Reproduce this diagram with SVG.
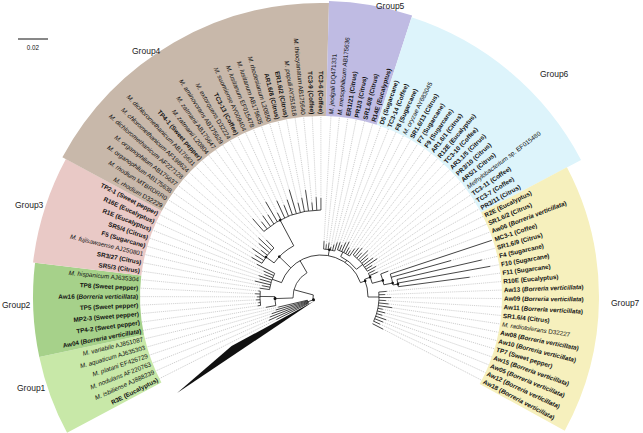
<svg xmlns="http://www.w3.org/2000/svg" width="643" height="433" viewBox="0 0 643 433">
<style>
.b{fill:none;stroke:#1a1a1a;stroke-width:0.75}
.d{stroke:#a8a8a8;stroke-width:0.5;stroke-dasharray:1.2 0.9}
.dot{fill:#111}
.lab{font-family:"Liberation Sans",Arial,sans-serif;font-size:6.3px;fill:#111}
.iso{font-weight:bold}
.sp{font-style:italic}
.grp{font-family:"Liberation Sans",Arial,sans-serif;font-size:8.5px;fill:#222}
.band{fill:none}
</style>
<rect width="643" height="433" fill="#fff"/>
<g id="bands" transform="translate(321,297)">
<circle class="band" r="234.5" stroke-width="107" stroke="#c8e8a8" pathLength="360" stroke-dasharray="16.15 360" transform="rotate(151.85)"/>
<circle class="band" r="234.5" stroke-width="107" stroke="#a6d18a" pathLength="360" stroke-dasharray="18.85 360" transform="rotate(168)"/>
<circle class="band" r="235.5" stroke-width="109" stroke="#e9c9c6" pathLength="360" stroke-dasharray="21.55 360" transform="rotate(186.85)"/>
<circle class="band" r="237.5" stroke-width="113" stroke="#c8b8aa" pathLength="360" stroke-dasharray="63.15 360" transform="rotate(208.4)"/>
<circle class="band" r="238.5" stroke-width="115" stroke="#bfbbe3" pathLength="360" stroke-dasharray="16.39 360" transform="rotate(271.55)"/>
<circle class="band" r="237.5" stroke-width="113" stroke="#ddf4fb" pathLength="360" stroke-dasharray="44.26 360" transform="rotate(287.94)"/>
<circle class="band" r="229.5" stroke-width="97" stroke="#f6f0bd" pathLength="360" stroke-dasharray="56.55 360" transform="rotate(332.2)"/>
</g>
<g id="group-labels">
<text class="grp" x="17" y="391">Group1</text>
<text class="grp" x="2" y="308">Group2</text>
<text class="grp" x="15" y="208">Group3</text>
<text class="grp" x="132" y="54">Group4</text>
<text class="grp" x="376" y="9">Group5</text>
<text class="grp" x="540" y="77">Group6</text>
<text class="grp" x="611" y="306">Group7</text>
</g>
<g id="scale">
<line x1="18" y1="39" x2="48" y2="39" stroke="#111" stroke-width="1"/>
<text class="lab" x="33" y="50" text-anchor="middle">0.02</text>
</g>
<g id="connectors" transform="translate(321,297)">
<polygon points="-6.9,4.1 -89.4,49.1 -143.9,96" fill="#111"/>
<circle class="b" r="8" pathLength="360" stroke-dasharray="46 360" transform="rotate(149)"/>
<line class="b" x1="8" x2="14" transform="rotate(160)"/>
<circle class="b" r="14" pathLength="360" stroke-dasharray="13.46 360" transform="rotate(153.2)"/>
<line class="b" x1="8" x2="28" transform="rotate(195)"/>
<circle class="b" r="28" pathLength="360" stroke-dasharray="62 360" transform="rotate(178)"/>
<line class="b" x1="28" x2="46" transform="rotate(178)"/>
<circle class="b" r="46" pathLength="360" stroke-dasharray="11.15 360" transform="rotate(169.35)"/>
<line class="b" x1="46" x2="61" transform="rotate(180.5)"/>
<circle class="b" r="61" pathLength="360" stroke-dasharray="13.46 360" transform="rotate(172.04)"/>
<line class="b" x1="28" x2="42" transform="rotate(240)"/>
<circle class="b" r="42" pathLength="360" stroke-dasharray="140 360" transform="rotate(200)"/>
<line class="b" x1="42" x2="52" transform="rotate(200)"/>
<circle class="b" r="52" pathLength="360" stroke-dasharray="18.84 360" transform="rotate(188.2)"/>
<line class="b" x1="42" x2="58" transform="rotate(224)"/>
<circle class="b" r="58" pathLength="360" stroke-dasharray="26 360" transform="rotate(216)"/>
<line class="b" x1="58" x2="68" transform="rotate(216)"/>
<circle class="b" r="68" pathLength="360" stroke-dasharray="16.42 360" transform="rotate(209.75)"/>
<line class="b" x1="58" x2="87" transform="rotate(242)"/>
<circle class="b" r="87" pathLength="360" stroke-dasharray="41.05 360" transform="rotate(228.91)"/>
<line class="b" x1="42" x2="48" transform="rotate(280)"/>
<circle class="b" r="48" pathLength="360" stroke-dasharray="13.46 360" transform="rotate(273.15)"/>
<line class="b" x1="42" x2="45" transform="rotate(305)"/>
<circle class="b" r="45" pathLength="360" stroke-dasharray="26 360" transform="rotate(296)"/>
<line class="b" x1="45" x2="50" transform="rotate(296)"/>
<circle class="b" r="50" pathLength="360" stroke-dasharray="15.62 360" transform="rotate(289.26)"/>
<line class="b" x1="45" x2="53" transform="rotate(322)"/>
<circle class="b" r="53" pathLength="360" stroke-dasharray="23.43 360" transform="rotate(307.48)"/>
<line class="b" x1="42" x2="47" transform="rotate(340)"/>
<circle class="b" r="47" pathLength="360" stroke-dasharray="22 360" transform="rotate(338)"/>
<line class="b" x1="47" x2="53" transform="rotate(338)"/>
<circle class="b" r="53" pathLength="360" stroke-dasharray="11.44 360" transform="rotate(333.56)"/>
<line class="b" x1="53" x2="64" transform="rotate(345)"/>
<circle class="b" r="64" pathLength="360" stroke-dasharray="10.05 360" transform="rotate(338.95)"/>
<line class="b" x1="64" x2="73" transform="rotate(349)"/>
<circle class="b" r="73" pathLength="360" stroke-dasharray="8.86 360" transform="rotate(341.64)"/>
<line class="b" x1="73" x2="78" transform="rotate(350.5)"/>
<circle class="b" r="78" pathLength="360" stroke-dasharray="5.39 360" transform="rotate(347.02)"/>
<line class="b" x1="47" x2="58" transform="rotate(360)"/>
<circle class="b" r="58" pathLength="360" stroke-dasharray="29.9 360" transform="rotate(355.1)"/>
<g class="dot">
<circle r="1.5" cx="8" transform="rotate(160)"/>
<circle r="1.5" cx="46" transform="rotate(178)"/>
<circle r="1.3" cx="58" transform="rotate(224)"/>
<circle r="1.3" cx="68" transform="rotate(216)"/>
<circle r="1.3" cx="87" transform="rotate(242)"/>
<circle r="1.3" cx="48" transform="rotate(280)"/>
<circle r="1.3" cx="47" transform="rotate(340)"/>
<circle r="1.3" cx="53" transform="rotate(338)"/>
<circle r="1.3" cx="64" transform="rotate(345)"/>
<circle r="1.3" cx="73" transform="rotate(349)"/>
<circle r="1.3" cx="78" transform="rotate(350.5)"/>
</g>
<g transform="rotate(153.20)"><line class="b" x1="14" x2="50"/><line class="d" x1="50" x2="181"/></g>
<g transform="rotate(155.89)"><line class="b" x1="14" x2="57"/><line class="d" x1="57" x2="181"/></g>
<g transform="rotate(158.58)"><line class="b" x1="14" x2="55"/><line class="d" x1="55" x2="181"/></g>
<g transform="rotate(161.28)"><line class="b" x1="14" x2="52"/><line class="d" x1="52" x2="181"/></g>
<g transform="rotate(163.97)"><line class="b" x1="14" x2="47"/><line class="d" x1="47" x2="181"/></g>
<g transform="rotate(166.66)"><line class="b" x1="14" x2="44"/><line class="d" x1="44" x2="181"/></g>
<g transform="rotate(169.35)"><line class="b" x1="46" x2="56"/><line class="d" x1="56" x2="181"/></g>
<g transform="rotate(172.04)"><line class="b" x1="61" x2="64"/><line class="d" x1="64" x2="181"/></g>
<g transform="rotate(174.74)"><line class="b" x1="61" x2="63"/><line class="d" x1="63" x2="181"/></g>
<g transform="rotate(177.43)"><line class="b" x1="61" x2="65"/><line class="d" x1="65" x2="181"/></g>
<g transform="rotate(180.12)"><line class="b" x1="61" x2="64"/><line class="d" x1="64" x2="181"/></g>
<g transform="rotate(182.81)"><line class="b" x1="61" x2="66"/><line class="d" x1="66" x2="181"/></g>
<g transform="rotate(185.50)"><line class="b" x1="61" x2="63"/><line class="d" x1="63" x2="181"/></g>
<g transform="rotate(188.20)"><line class="b" x1="52" x2="62"/><line class="d" x1="62" x2="181"/></g>
<g transform="rotate(190.89)"><line class="b" x1="52" x2="60"/><line class="d" x1="60" x2="181"/></g>
<g transform="rotate(193.58)"><line class="b" x1="52" x2="68"/><line class="d" x1="68" x2="181"/></g>
<g transform="rotate(196.27)"><line class="b" x1="52" x2="64"/><line class="d" x1="64" x2="181"/></g>
<g transform="rotate(198.96)"><line class="b" x1="52" x2="66"/><line class="d" x1="66" x2="181"/></g>
<g transform="rotate(201.66)"><line class="b" x1="52" x2="61"/><line class="d" x1="61" x2="181"/></g>
<g transform="rotate(204.35)"><line class="b" x1="52" x2="63"/><line class="d" x1="63" x2="181"/></g>
<g transform="rotate(207.04)"><line class="b" x1="52" x2="72"/><line class="d" x1="72" x2="181"/></g>
<g transform="rotate(209.75)"><line class="b" x1="68" x2="80"/><line class="d" x1="80" x2="181"/></g>
<g transform="rotate(212.49)"><line class="b" x1="68" x2="78"/><line class="d" x1="78" x2="181"/></g>
<g transform="rotate(215.23)"><line class="b" x1="68" x2="84"/><line class="d" x1="84" x2="181"/></g>
<g transform="rotate(217.97)"><line class="b" x1="68" x2="76"/><line class="d" x1="76" x2="181"/></g>
<g transform="rotate(220.70)"><line class="b" x1="68" x2="82"/><line class="d" x1="82" x2="181"/></g>
<g transform="rotate(223.43)"><line class="b" x1="68" x2="86"/><line class="d" x1="86" x2="181"/></g>
<g transform="rotate(226.17)"><line class="b" x1="68" x2="79"/><line class="d" x1="79" x2="181"/></g>
<g transform="rotate(228.91)"><line class="b" x1="87" x2="104"/><line class="d" x1="104" x2="181"/></g>
<g transform="rotate(231.65)"><line class="b" x1="87" x2="96"/><line class="d" x1="96" x2="181"/></g>
<g transform="rotate(234.38)"><line class="b" x1="87" x2="100"/><line class="d" x1="100" x2="181"/></g>
<g transform="rotate(237.12)"><line class="b" x1="87" x2="98"/><line class="d" x1="98" x2="181"/></g>
<g transform="rotate(239.85)"><line class="b" x1="87" x2="110"/><line class="d" x1="110" x2="181"/></g>
<g transform="rotate(242.60)"><line class="b" x1="87" x2="95"/><line class="d" x1="95" x2="181"/></g>
<g transform="rotate(245.33)"><line class="b" x1="87" x2="106"/><line class="d" x1="106" x2="181"/></g>
<g transform="rotate(248.06)"><line class="b" x1="87" x2="99"/><line class="d" x1="99" x2="181"/></g>
<g transform="rotate(250.80)"><line class="b" x1="87" x2="103"/><line class="d" x1="103" x2="181"/></g>
<g transform="rotate(253.53)"><line class="b" x1="87" x2="112"/><line class="d" x1="112" x2="181"/></g>
<g transform="rotate(256.28)"><line class="b" x1="87" x2="97"/><line class="d" x1="97" x2="181"/></g>
<g transform="rotate(259.01)"><line class="b" x1="87" x2="101"/><line class="d" x1="101" x2="181"/></g>
<g transform="rotate(261.75)"><line class="b" x1="87" x2="108"/><line class="d" x1="108" x2="181"/></g>
<g transform="rotate(264.48)"><line class="b" x1="87" x2="95"/><line class="d" x1="95" x2="181"/></g>
<g transform="rotate(267.22)"><line class="b" x1="87" x2="100"/><line class="d" x1="100" x2="181"/></g>
<g transform="rotate(269.96)"><line class="b" x1="87" x2="99"/><line class="d" x1="99" x2="181"/></g>
<g transform="rotate(273.15)"><line class="b" x1="48" x2="56"/><line class="d" x1="56" x2="181"/></g>
<g transform="rotate(275.84)"><line class="b" x1="48" x2="53"/><line class="d" x1="53" x2="181"/></g>
<g transform="rotate(278.53)"><line class="b" x1="48" x2="55"/><line class="d" x1="55" x2="181"/></g>
<g transform="rotate(281.22)"><line class="b" x1="48" x2="51"/><line class="d" x1="51" x2="181"/></g>
<g transform="rotate(283.92)"><line class="b" x1="48" x2="54"/><line class="d" x1="54" x2="181"/></g>
<g transform="rotate(286.61)"><line class="b" x1="48" x2="57"/><line class="d" x1="57" x2="181"/></g>
<g transform="rotate(289.26)"><line class="b" x1="50" x2="58"/><line class="d" x1="58" x2="181"/></g>
<g transform="rotate(291.86)"><line class="b" x1="50" x2="56"/><line class="d" x1="56" x2="181"/></g>
<g transform="rotate(294.46)"><line class="b" x1="50" x2="60"/><line class="d" x1="60" x2="181"/></g>
<g transform="rotate(297.07)"><line class="b" x1="50" x2="62"/><line class="d" x1="62" x2="181"/></g>
<g transform="rotate(299.67)"><line class="b" x1="50" x2="57"/><line class="d" x1="57" x2="181"/></g>
<g transform="rotate(302.28)"><line class="b" x1="50" x2="55"/><line class="d" x1="55" x2="181"/></g>
<g transform="rotate(304.88)"><line class="b" x1="50" x2="59"/><line class="d" x1="59" x2="181"/></g>
<g transform="rotate(307.48)"><line class="b" x1="53" x2="62"/><line class="d" x1="62" x2="181"/></g>
<g transform="rotate(310.09)"><line class="b" x1="53" x2="64"/><line class="d" x1="64" x2="181"/></g>
<g transform="rotate(312.69)"><line class="b" x1="53" x2="60"/><line class="d" x1="60" x2="181"/></g>
<g transform="rotate(315.29)"><line class="b" x1="53" x2="66"/><line class="d" x1="66" x2="181"/></g>
<g transform="rotate(317.90)"><line class="b" x1="53" x2="63"/><line class="d" x1="63" x2="181"/></g>
<g transform="rotate(320.50)"><line class="b" x1="53" x2="61"/><line class="d" x1="61" x2="181"/></g>
<g transform="rotate(323.11)"><line class="b" x1="53" x2="65"/><line class="d" x1="65" x2="181"/></g>
<g transform="rotate(325.71)"><line class="b" x1="53" x2="68"/><line class="d" x1="68" x2="181"/></g>
<g transform="rotate(328.31)"><line class="b" x1="53" x2="60"/><line class="d" x1="60" x2="181"/></g>
<g transform="rotate(330.91)"><line class="b" x1="53" x2="63"/><line class="d" x1="63" x2="181"/></g>
<g transform="rotate(333.56)"><line class="b" x1="53" x2="60"/><line class="d" x1="60" x2="181"/></g>
<g transform="rotate(336.26)"><line class="b" x1="53" x2="62"/><line class="d" x1="62" x2="181"/></g>
<g transform="rotate(338.95)"><line class="b" x1="64" x2="72"/><line class="d" x1="72" x2="181"/></g>
<g transform="rotate(341.64)"><line class="b" x1="73" x2="180"/></g>
<g transform="rotate(344.33)"><line class="b" x1="73" x2="135"/><line class="d" x1="135" x2="181"/></g>
<g transform="rotate(347.02)"><line class="b" x1="78" x2="165"/><line class="d" x1="165" x2="181"/></g>
<g transform="rotate(349.72)"><line class="b" x1="78" x2="172"/><line class="d" x1="172" x2="181"/></g>
<g transform="rotate(352.41)"><line class="b" x1="78" x2="150"/><line class="d" x1="150" x2="181"/></g>
<g transform="rotate(355.10)"><line class="b" x1="58" x2="66"/><line class="d" x1="66" x2="181"/></g>
<g transform="rotate(357.79)"><line class="b" x1="58" x2="64"/><line class="d" x1="64" x2="181"/></g>
<g transform="rotate(360.48)"><line class="b" x1="58" x2="70"/><line class="d" x1="70" x2="181"/></g>
<g transform="rotate(363.18)"><line class="b" x1="58" x2="65"/><line class="d" x1="65" x2="181"/></g>
<g transform="rotate(365.87)"><line class="b" x1="58" x2="68"/><line class="d" x1="68" x2="181"/></g>
<g transform="rotate(368.56)"><line class="b" x1="58" x2="72"/><line class="d" x1="72" x2="181"/></g>
<g transform="rotate(371.25)"><line class="b" x1="58" x2="63"/><line class="d" x1="63" x2="181"/></g>
<g transform="rotate(373.94)"><line class="b" x1="58" x2="66"/><line class="d" x1="66" x2="181"/></g>
<g transform="rotate(376.64)"><line class="b" x1="58" x2="64"/><line class="d" x1="64" x2="181"/></g>
<g transform="rotate(379.33)"><line class="b" x1="58" x2="69"/><line class="d" x1="69" x2="181"/></g>
<g transform="rotate(382.02)"><line class="b" x1="58" x2="67"/><line class="d" x1="67" x2="181"/></g>
<g transform="rotate(384.71)"><line class="b" x1="58" x2="65"/><line class="d" x1="65" x2="181"/></g>
<g transform="rotate(387.40)"><line class="b" x1="58" x2="70"/><line class="d" x1="70" x2="181"/></g>
</g>
<g id="leaves" transform="translate(321,297)">
<g id="n0" transform="rotate(-26.80)"><text class="lab iso" x="-183" dy="2.2" text-anchor="end">R3E (Eucalyptus)</text></g>
<g id="n1" transform="rotate(-24.11)"><text class="lab" x="-183" dy="2.2" text-anchor="end"><tspan class="sp">M. isbiliense</tspan> AJ888239</text></g>
<g id="n2" transform="rotate(-21.42)"><text class="lab" x="-183" dy="2.2" text-anchor="end"><tspan class="sp">M. nodulans</tspan> AF220763</text></g>
<g id="n3" transform="rotate(-18.72)"><text class="lab" x="-183" dy="2.2" text-anchor="end"><tspan class="sp">M. platani</tspan> EF426729</text></g>
<g id="n4" transform="rotate(-16.03)"><text class="lab" x="-183" dy="2.2" text-anchor="end"><tspan class="sp">M. aquaticum</tspan> AJ635303</text></g>
<g id="n5" transform="rotate(-13.34)"><text class="lab" x="-183" dy="2.2" text-anchor="end"><tspan class="sp">M. variabile</tspan> AJ851087</text></g>
<g id="n6" transform="rotate(-10.65)"><text class="lab iso" x="-183" dy="2.2" text-anchor="end">Aw04 (<tspan class="sp">Borreria verticillata</tspan>)</text></g>
<g id="n7" transform="rotate(-7.96)"><text class="lab iso" x="-183" dy="2.2" text-anchor="end">TP4-2 (Sweet pepper)</text></g>
<g id="n8" transform="rotate(-5.26)"><text class="lab iso" x="-183" dy="2.2" text-anchor="end">MP2-3 (Sweet pepper)</text></g>
<g id="n9" transform="rotate(-2.57)"><text class="lab iso" x="-183" dy="2.2" text-anchor="end">TP5 (Sweet pepper)</text></g>
<g id="n10" transform="rotate(0.12)"><text class="lab iso" x="-183" dy="2.2" text-anchor="end">Aw16 (<tspan class="sp">Borreria verticillata</tspan>)</text></g>
<g id="n11" transform="rotate(2.81)"><text class="lab iso" x="-183" dy="2.2" text-anchor="end">TP8 (Sweet pepper)</text></g>
<g id="n12" transform="rotate(5.50)"><text class="lab" x="-183" dy="2.2" text-anchor="end"><tspan class="sp">M. hispanicum</tspan> AJ635304</text></g>
<g id="n13" transform="rotate(8.20)"><text class="lab iso" x="-183" dy="2.2" text-anchor="end">SR5/3 (Citrus)</text></g>
<g id="n14" transform="rotate(10.89)"><text class="lab iso" x="-183" dy="2.2" text-anchor="end">SR3/27 (Citrus)</text></g>
<g id="n15" transform="rotate(13.58)"><text class="lab" x="-183" dy="2.2" text-anchor="end"><tspan class="sp">M. fujisawaense</tspan> AJ250801</text></g>
<g id="n16" transform="rotate(16.27)"><text class="lab iso" x="-183" dy="2.2" text-anchor="end">F5 (Sugarcane)</text></g>
<g id="n17" transform="rotate(18.96)"><text class="lab iso" x="-183" dy="2.2" text-anchor="end">SR5/4 (Citrus)</text></g>
<g id="n18" transform="rotate(21.66)"><text class="lab iso" x="-183" dy="2.2" text-anchor="end">R1E (Eucalyptus)</text></g>
<g id="n19" transform="rotate(24.35)"><text class="lab iso" x="-183" dy="2.2" text-anchor="end">R16E (Eucalyptus)</text></g>
<g id="n20" transform="rotate(27.04)"><text class="lab iso" x="-183" dy="2.2" text-anchor="end">TP2-1 (Sweet pepper)</text></g>
<g id="n21" transform="rotate(29.75)"><text class="lab" x="-183" dy="2.2" text-anchor="end"><tspan class="sp">M. rhodium</tspan> D32229</text></g>
<g id="n22" transform="rotate(32.49)"><text class="lab" x="-183" dy="2.2" text-anchor="end"><tspan class="sp">M. rhodium</tspan> MTBRDRR0</text></g>
<g id="n23" transform="rotate(35.23)"><text class="lab" x="-183" dy="2.2" text-anchor="end"><tspan class="sp">M. organophilum</tspan> AB175638</text></g>
<g id="n24" transform="rotate(37.97)"><text class="lab" x="-183" dy="2.2" text-anchor="end"><tspan class="sp">M. organophilum</tspan> AB175637</text></g>
<g id="n25" transform="rotate(40.70)"><text class="lab" x="-183" dy="2.2" text-anchor="end"><tspan class="sp">M. dichloromethanicum</tspan> AF227128</text></g>
<g id="n26" transform="rotate(43.43)"><text class="lab" x="-183" dy="2.2" text-anchor="end"><tspan class="sp">M. chloromethanicum</tspan> AF198624</text></g>
<g id="n27" transform="rotate(46.17)"><text class="lab" x="-183" dy="2.2" text-anchor="end"><tspan class="sp">M. dichloromethanicum</tspan> AB175631</text></g>
<g id="n28" transform="rotate(48.91)"><text class="lab iso" x="-183" dy="2.2" text-anchor="end">TP4-1 (Sweet pepper)</text></g>
<g id="n29" transform="rotate(51.65)"><text class="lab" x="-183" dy="2.2" text-anchor="end"><tspan class="sp">M. zatmanii</tspan> L20804</text></g>
<g id="n30" transform="rotate(54.38)"><text class="lab" x="-183" dy="2.2" text-anchor="end"><tspan class="sp">M. zatmanii</tspan> AB175647</text></g>
<g id="n31" transform="rotate(57.12)"><text class="lab" x="-183" dy="2.2" text-anchor="end"><tspan class="sp">M. aminovorans</tspan> AB175629</text></g>
<g id="n32" transform="rotate(59.85)"><text class="lab" x="-183" dy="2.2" text-anchor="end"><tspan class="sp">M. extorquens</tspan> D32224</text></g>
<g id="n33" transform="rotate(62.60)"><text class="lab iso" x="-183" dy="2.2" text-anchor="end">TC3-13 (Coffee)</text></g>
<g id="n34" transform="rotate(65.33)"><text class="lab" x="-183" dy="2.2" text-anchor="end"><tspan class="sp">M. suomiense</tspan> AY009404</text></g>
<g id="n35" transform="rotate(68.06)"><text class="lab" x="-183" dy="2.2" text-anchor="end"><tspan class="sp">M. lusitanum</tspan> EF015478</text></g>
<g id="n36" transform="rotate(70.80)"><text class="lab" x="-183" dy="2.2" text-anchor="end"><tspan class="sp">M. lusitanum</tspan> AB175635</text></g>
<g id="n37" transform="rotate(73.53)"><text class="lab" x="-183" dy="2.2" text-anchor="end"><tspan class="sp">M. rhodesianum</tspan> L20850</text></g>
<g id="n38" transform="rotate(76.28)"><text class="lab iso" x="-183" dy="2.2" text-anchor="end">AR1.6/8 (Citrus)</text></g>
<g id="n39" transform="rotate(79.01)"><text class="lab iso" x="-183" dy="2.2" text-anchor="end">ER1.6/2 (Citrus)</text></g>
<g id="n40" transform="rotate(81.75)"><text class="lab" x="-183" dy="2.2" text-anchor="end"><tspan class="sp">M. populi</tspan> AY251818</text></g>
<g id="n41" transform="rotate(84.48)"><text class="lab" x="-183" dy="2.2" text-anchor="end"><tspan class="sp">M. thiocyanatum</tspan> AB175640</text></g>
<g id="n42" transform="rotate(87.22)"><text class="lab iso" x="-183" dy="2.2" text-anchor="end">TC3-9 (Coffee)</text></g>
<g id="n43" transform="rotate(89.96)"><text class="lab iso" x="-183" dy="2.2" text-anchor="end">TC3-6 (Coffee)</text></g>
<g id="n44" transform="rotate(-86.85)"><text class="lab" x="183" dy="2.2"><tspan class="sp">M. jeolgali</tspan> DQ471331</text></g>
<g id="n45" transform="rotate(-84.16)"><text class="lab" x="183" dy="2.2"><tspan class="sp">M. mesophilicum</tspan> AB175636</text></g>
<g id="n46" transform="rotate(-81.47)"><text class="lab iso" x="183" dy="2.2">ER1/21 (Citrus)</text></g>
<g id="n47" transform="rotate(-78.78)"><text class="lab iso" x="183" dy="2.2">PR1/3 (Citrus)</text></g>
<g id="n48" transform="rotate(-76.08)"><text class="lab iso" x="183" dy="2.2">SR1.6/8 (Citrus)</text></g>
<g id="n49" transform="rotate(-73.39)"><text class="lab iso" x="183" dy="2.2">R14E (Eucalyptus)</text></g>
<g id="n50" transform="rotate(-70.74)"><text class="lab iso" x="183" dy="2.2">D5 (Sugarcane)</text></g>
<g id="n51" transform="rotate(-68.14)"><text class="lab iso" x="183" dy="2.2">TC3-14 (Coffee)</text></g>
<g id="n52" transform="rotate(-65.54)"><text class="lab iso" x="183" dy="2.2">F8 (Sugarcane)</text></g>
<g id="n53" transform="rotate(-62.93)"><text class="lab" x="183" dy="2.2"><tspan class="sp">M. oryzae</tspan> AY683045</text></g>
<g id="n54" transform="rotate(-60.33)"><text class="lab iso" x="183" dy="2.2">SR1.6/13 (Citrus)</text></g>
<g id="n55" transform="rotate(-57.72)"><text class="lab iso" x="183" dy="2.2">F7 (Sugarcane)</text></g>
<g id="n56" transform="rotate(-55.12)"><text class="lab iso" x="183" dy="2.2">F9 (Sugarcane)</text></g>
<g id="n57" transform="rotate(-52.52)"><text class="lab iso" x="183" dy="2.2">AR1.6/1 (Citrus)</text></g>
<g id="n58" transform="rotate(-49.91)"><text class="lab iso" x="183" dy="2.2">R12E (Eucalyptus)</text></g>
<g id="n59" transform="rotate(-47.31)"><text class="lab iso" x="183" dy="2.2">TC3-10 (Coffee)</text></g>
<g id="n60" transform="rotate(-44.71)"><text class="lab iso" x="183" dy="2.2">AR3.1/5 (Citrus)</text></g>
<g id="n61" transform="rotate(-42.10)"><text class="lab iso" x="183" dy="2.2">PR3/10 (Citrus)</text></g>
<g id="n62" transform="rotate(-39.50)"><text class="lab iso" x="183" dy="2.2">AR5/1 (Citrus)</text></g>
<g id="n63" transform="rotate(-36.89)"><text class="lab" x="183" dy="2.2"><tspan class="sp">Methylobacterium</tspan> sp. EF015480</text></g>
<g id="n64" transform="rotate(-34.29)"><text class="lab iso" x="183" dy="2.2">TC3-11 (Coffee)</text></g>
<g id="n65" transform="rotate(-31.69)"><text class="lab iso" x="183" dy="2.2">TC3-7 (Coffee)</text></g>
<g id="n66" transform="rotate(-29.09)"><text class="lab iso" x="183" dy="2.2">PR3/11 (Citrus)</text></g>
<g id="n67" transform="rotate(-26.44)"><text class="lab iso" x="183" dy="2.2">R2E (Eucalyptus)</text></g>
<g id="n68" transform="rotate(-23.74)"><text class="lab iso" x="183" dy="2.2">SR1.6/2 (Citrus)</text></g>
<g id="n69" transform="rotate(-21.05)"><text class="lab iso" x="183" dy="2.2">Aw06 (<tspan class="sp">Borreria verticillata</tspan>)</text></g>
<g id="n70" transform="rotate(-18.36)"><text class="lab iso" x="183" dy="2.2">MC3-1 (Coffee)</text></g>
<g id="n71" transform="rotate(-15.67)"><text class="lab iso" x="183" dy="2.2">SR1.6/9 (Citrus)</text></g>
<g id="n72" transform="rotate(-12.98)"><text class="lab iso" x="183" dy="2.2">F4 (Sugarcane)</text></g>
<g id="n73" transform="rotate(-10.28)"><text class="lab iso" x="183" dy="2.2">F10 (Sugarcane)</text></g>
<g id="n74" transform="rotate(-7.59)"><text class="lab iso" x="183" dy="2.2">F11 (Sugarcane)</text></g>
<g id="n75" transform="rotate(-4.90)"><text class="lab iso" x="183" dy="2.2">R10E (Eucalyptus)</text></g>
<g id="n76" transform="rotate(-2.21)"><text class="lab iso" x="183" dy="2.2">Aw13 (<tspan class="sp">Borreria verticillata</tspan>)</text></g>
<g id="n77" transform="rotate(0.48)"><text class="lab iso" x="183" dy="2.2">Aw09 (<tspan class="sp">Borreria verticillata</tspan>)</text></g>
<g id="n78" transform="rotate(3.18)"><text class="lab iso" x="183" dy="2.2">Aw11 (<tspan class="sp">Borreria verticillata</tspan>)</text></g>
<g id="n79" transform="rotate(5.87)"><text class="lab iso" x="183" dy="2.2">SR1.6/4 (Citrus)</text></g>
<g id="n80" transform="rotate(8.56)"><text class="lab" x="183" dy="2.2"><tspan class="sp">M. radiotolerans</tspan> D32227</text></g>
<g id="n81" transform="rotate(11.25)"><text class="lab iso" x="183" dy="2.2">Aw08 (<tspan class="sp">Borreria verticillata</tspan>)</text></g>
<g id="n82" transform="rotate(13.94)"><text class="lab iso" x="183" dy="2.2">Aw10 (<tspan class="sp">Borreria verticillata</tspan>)</text></g>
<g id="n83" transform="rotate(16.64)"><text class="lab iso" x="183" dy="2.2">TP7 (Sweet pepper)</text></g>
<g id="n84" transform="rotate(19.33)"><text class="lab iso" x="183" dy="2.2">Aw15 (<tspan class="sp">Borreria verticillata</tspan>)</text></g>
<g id="n85" transform="rotate(22.02)"><text class="lab iso" x="183" dy="2.2">Aw05 (<tspan class="sp">Borreria verticillata</tspan>)</text></g>
<g id="n86" transform="rotate(24.71)"><text class="lab iso" x="183" dy="2.2">Aw12 (<tspan class="sp">Borreria verticillata</tspan>)</text></g>
<g id="n87" transform="rotate(27.40)"><text class="lab iso" x="183" dy="2.2">Aw18 (<tspan class="sp">Borreria verticillata</tspan>)</text></g>
</g>
</svg>
